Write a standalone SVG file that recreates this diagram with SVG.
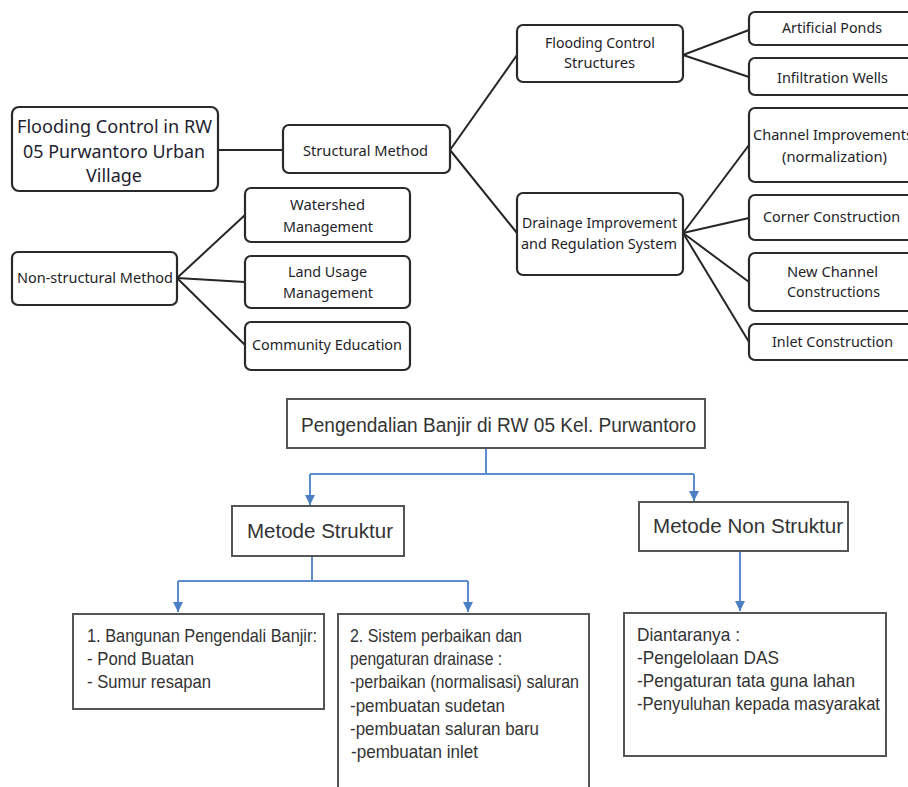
<svg xmlns="http://www.w3.org/2000/svg" width="908" height="787" viewBox="0 0 908 787">
<defs>
<style>
.tb{fill:#fff;stroke:#2a2a2a;stroke-width:2.2}
.tt{font-family:"Noto Sans","Open Sans",sans-serif;font-size:13.5px;fill:#1e1e28}
.tl{font-family:"Noto Sans","Open Sans",sans-serif;font-size:17.5px;fill:#1e1e30}
.tc{stroke:#262626;stroke-width:2;fill:none}
.bb{fill:#fff;stroke:#555;stroke-width:2}
.bt{font-family:"Liberation Sans Narrow","Liberation Sans",Arial,sans-serif;font-size:18.5px;fill:#333}
.bh{font-family:"Liberation Sans Narrow","Liberation Sans",Arial,sans-serif;font-size:20px;fill:#333}
.bc{stroke:#5b8dd0;stroke-width:2;fill:none}
</style>
<marker id="arr" markerUnits="userSpaceOnUse" markerWidth="12" markerHeight="12" viewBox="0 0 12 12" refX="11" refY="6" orient="auto">
<path d="M1,1 L11,6 L1,11 Z" fill="#4a7fc4"/>
</marker>
</defs>
<rect width="908" height="787" fill="#fff"/>

<g id="top-connectors">
<line class="tc" x1="218" y1="150" x2="283" y2="150"/>
<line class="tc" x1="450" y1="150" x2="517" y2="55"/>
<line class="tc" x1="450" y1="150" x2="517" y2="233"/>
<line class="tc" x1="683" y1="55" x2="749" y2="30"/>
<line class="tc" x1="683" y1="55" x2="749" y2="77"/>
<line class="tc" x1="683" y1="233" x2="749" y2="145"/>
<line class="tc" x1="683" y1="233" x2="749" y2="218"/>
<line class="tc" x1="683" y1="233" x2="749" y2="282"/>
<line class="tc" x1="683" y1="233" x2="749" y2="342"/>
<line class="tc" x1="177" y1="278" x2="245" y2="215"/>
<line class="tc" x1="177" y1="278" x2="245" y2="282"/>
<line class="tc" x1="177" y1="278" x2="245" y2="345"/>
</g>

<g id="n-main">
<rect class="tb" x="12" y="107" width="206" height="84" rx="7"/>
<text class="tl" x="17" y="133" textLength="195" lengthAdjust="spacingAndGlyphs">Flooding Control in RW</text>
<text class="tl" x="23" y="158" textLength="182" lengthAdjust="spacingAndGlyphs">05 Purwantoro Urban</text>
<text class="tl" x="86" y="182" textLength="56" lengthAdjust="spacingAndGlyphs">Village</text>
</g>
<g id="n-struct">
<rect class="tb" x="283" y="125" width="167" height="48" rx="6"/>
<text class="tt" x="303" y="156" textLength="125" lengthAdjust="spacingAndGlyphs">Structural Method</text>
</g>
<g id="n-fcs">
<rect class="tb" x="517" y="25" width="166" height="57" rx="6"/>
<text class="tt" x="545" y="48" textLength="110" lengthAdjust="spacingAndGlyphs">Flooding Control</text>
<text class="tt" x="564" y="68" textLength="71" lengthAdjust="spacingAndGlyphs">Structures</text>
</g>
<g id="n-ponds">
<rect class="tb" x="749" y="12" width="170" height="33" rx="6"/>
<text class="tt" x="782" y="33" textLength="100" lengthAdjust="spacingAndGlyphs">Artificial Ponds</text>
</g>
<g id="n-wells">
<rect class="tb" x="749" y="58" width="170" height="37" rx="6"/>
<text class="tt" x="777" y="83" textLength="111" lengthAdjust="spacingAndGlyphs">Infiltration Wells</text>
</g>
<g id="n-chan">
<rect class="tb" x="749" y="108" width="170" height="74" rx="6"/>
<text class="tt" x="753" y="140" textLength="160" lengthAdjust="spacingAndGlyphs">Channel Improvements</text>
<text class="tt" x="782" y="162" textLength="105" lengthAdjust="spacingAndGlyphs">(normalization)</text>
</g>
<g id="n-drain">
<rect class="tb" x="517" y="193" width="166" height="82" rx="6"/>
<text class="tt" x="522" y="228" textLength="155" lengthAdjust="spacingAndGlyphs">Drainage Improvement</text>
<text class="tt" x="521" y="249" textLength="156" lengthAdjust="spacingAndGlyphs">and Regulation System</text>
</g>
<g id="n-corner">
<rect class="tb" x="749" y="195" width="170" height="45" rx="6"/>
<text class="tt" x="763" y="222" textLength="137" lengthAdjust="spacingAndGlyphs">Corner Construction</text>
</g>
<g id="n-newch">
<rect class="tb" x="749" y="253" width="170" height="58" rx="6"/>
<text class="tt" x="787" y="277" textLength="91" lengthAdjust="spacingAndGlyphs">New Channel</text>
<text class="tt" x="787" y="297" textLength="93" lengthAdjust="spacingAndGlyphs">Constructions</text>
</g>
<g id="n-inlet">
<rect class="tb" x="749" y="324" width="170" height="36" rx="6"/>
<text class="tt" x="772" y="347" textLength="121" lengthAdjust="spacingAndGlyphs">Inlet Construction</text>
</g>
<g id="n-nonstruct">
<rect class="tb" x="12" y="252" width="165" height="53" rx="6"/>
<text class="tt" x="17" y="283" textLength="156" lengthAdjust="spacingAndGlyphs">Non-structural Method</text>
</g>
<g id="n-water">
<rect class="tb" x="245" y="188" width="165" height="54" rx="6"/>
<text class="tt" x="290" y="210" textLength="75" lengthAdjust="spacingAndGlyphs">Watershed</text>
<text class="tt" x="283" y="232" textLength="90" lengthAdjust="spacingAndGlyphs">Management</text>
</g>
<g id="n-land">
<rect class="tb" x="245" y="256" width="165" height="52" rx="6"/>
<text class="tt" x="288" y="277" textLength="79" lengthAdjust="spacingAndGlyphs">Land Usage</text>
<text class="tt" x="283" y="298" textLength="90" lengthAdjust="spacingAndGlyphs">Management</text>
</g>
<g id="n-comm">
<rect class="tb" x="245" y="322" width="165" height="48" rx="6"/>
<text class="tt" x="252" y="350" textLength="150" lengthAdjust="spacingAndGlyphs">Community Education</text>
</g>

<g id="bottom-connectors">
<polyline class="bc" points="486,448 486,474"/>
<polyline class="bc" points="310,474 694,474"/>
<line class="bc" x1="310" y1="474" x2="310" y2="505" marker-end="url(#arr)"/>
<line class="bc" x1="694" y1="474" x2="694" y2="501" marker-end="url(#arr)"/>
<polyline class="bc" points="312,556 312,581"/>
<polyline class="bc" points="178,581 468,581"/>
<line class="bc" x1="178" y1="581" x2="178" y2="612" marker-end="url(#arr)"/>
<line class="bc" x1="468" y1="581" x2="468" y2="612" marker-end="url(#arr)"/>
<line class="bc" x1="740" y1="551" x2="740" y2="611" marker-end="url(#arr)"/>
</g>

<g id="b-main">
<rect class="bb" x="287" y="399" width="418" height="49"/>
<text class="bh" x="301" y="432" textLength="395" lengthAdjust="spacingAndGlyphs">Pengendalian Banjir di RW 05 Kel. Purwantoro</text>
</g>
<g id="b-struk">
<rect class="bb" x="232" y="506" width="172" height="50"/>
<text class="bh" x="247" y="538" textLength="146" lengthAdjust="spacingAndGlyphs">Metode Struktur</text>
</g>
<g id="b-nonstruk">
<rect class="bb" x="639" y="502" width="209" height="49"/>
<text class="bh" x="653" y="533" textLength="190" lengthAdjust="spacingAndGlyphs">Metode Non Struktur</text>
</g>
<g id="b-1">
<rect class="bb" x="73" y="614" width="251" height="95"/>
<text class="bt" x="87" y="642" textLength="230" lengthAdjust="spacingAndGlyphs">1. Bangunan Pengendali Banjir:</text>
<text class="bt" x="87" y="665" textLength="107" lengthAdjust="spacingAndGlyphs">- Pond Buatan</text>
<text class="bt" x="87" y="688" textLength="124" lengthAdjust="spacingAndGlyphs">- Sumur resapan</text>
</g>
<g id="b-2">
<rect class="bb" x="338" y="614" width="251" height="185"/>
<text class="bt" x="350" y="642" textLength="172" lengthAdjust="spacingAndGlyphs">2. Sistem perbaikan dan</text>
<text class="bt" x="350" y="665" textLength="152" lengthAdjust="spacingAndGlyphs">pengaturan drainase :</text>
<text class="bt" x="350" y="688" textLength="229" lengthAdjust="spacingAndGlyphs">-perbaikan (normalisasi) saluran</text>
<text class="bt" x="350" y="712" textLength="155" lengthAdjust="spacingAndGlyphs">-pembuatan sudetan</text>
<text class="bt" x="350" y="735" textLength="189" lengthAdjust="spacingAndGlyphs">-pembuatan saluran baru</text>
<text class="bt" x="351" y="758" textLength="127" lengthAdjust="spacingAndGlyphs">-pembuatan inlet</text>
</g>
<g id="b-3">
<rect class="bb" x="624" y="613" width="262" height="143"/>
<text class="bt" x="637" y="641" textLength="103" lengthAdjust="spacingAndGlyphs">Diantaranya :</text>
<text class="bt" x="637" y="664" textLength="142" lengthAdjust="spacingAndGlyphs">-Pengelolaan DAS</text>
<text class="bt" x="637" y="687" textLength="218" lengthAdjust="spacingAndGlyphs">-Pengaturan tata guna lahan</text>
<text class="bt" x="637" y="710" textLength="243" lengthAdjust="spacingAndGlyphs">-Penyuluhan kepada masyarakat</text>
</g>
</svg>
